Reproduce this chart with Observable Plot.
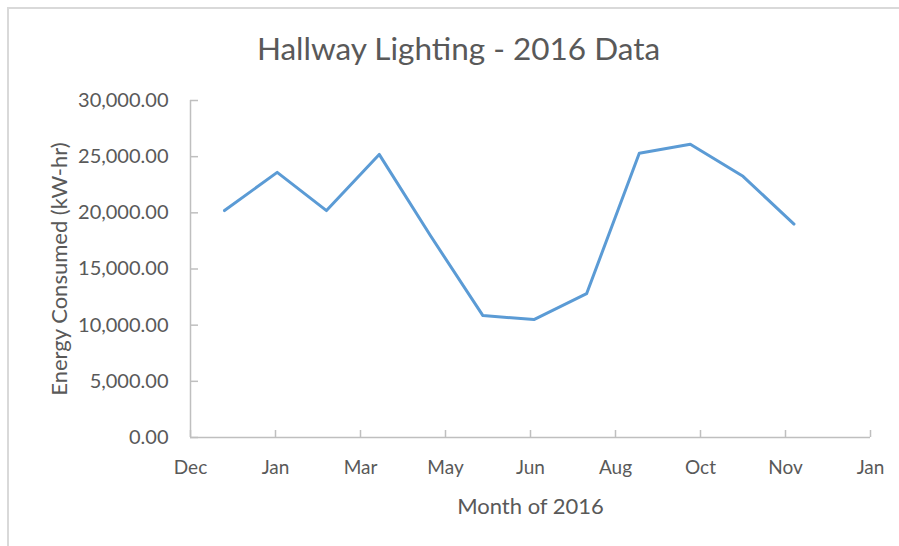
<!DOCTYPE html>
<html>
<head>
<meta charset="utf-8">
<script src="https://cdn.jsdelivr.net/npm/d3@7"></script>
<script src="https://cdn.jsdelivr.net/npm/@observablehq/plot@0.6"></script>
<style>
  html, body { margin: 0; padding: 0; background: #fff; }
  #wrap { position: relative; width: 899px; height: 546px; overflow: hidden; font-family: Lato, "Open Sans", sans-serif; }
  #border { position: absolute; left: 7px; top: 7px; width: 960px; height: 600px; border-top: 2px solid #d9d9d9; border-left: 2px solid #d9d9d9; box-sizing: border-box; }
  #title { position: relative; height: 76px; box-sizing: border-box; padding-top: 33px; padding-left: 18px; text-align: center; font-size: 31.5px; line-height: 30px; color: #595959; font-weight: 400; }
  #chart { position: relative; }
  svg { display: block; }
</style>
</head>
<body>
<div id="wrap">
  <div id="border"></div>
  <div id="title">Hallway Lighting - 2016 Data</div>
  <div id="chart"></div>
</div>
<script>
const months = ["2016-01-01","2016-02-01","2016-03-01","2016-04-01","2016-05-01","2016-06-01","2016-07-01","2016-08-01","2016-09-01","2016-10-01","2016-11-01","2016-12-01"];
const energy = [20200, 23600, 20200, 25200, 18000, 10850, 10500, 12800, 25300, 26100, 23250, 19000];
const xTicks = ["2015-12-12","2016-01-31","2016-03-21","2016-05-10","2016-06-29","2016-08-18","2016-10-07","2016-11-26","2017-01-15"];
const yTicks = [0, 5000, 10000, 15000, 20000, 25000, 30000];
const xDomain = ["2015-12-12", "2017-01-15"];
const yDomain = [0, 30000];
const xLabel = "Month of 2016";
const yLabel = "Energy Consumed (kW-hr)";

const data = months.map((m, i) => ({date: new Date(m + "T00:00:00Z"), value: energy[i]}));
const xTickDates = xTicks.map(d => new Date(d + "T00:00:00Z"));
const xDom = xDomain.map(d => new Date(d + "T00:00:00Z"));

const textColor = "#595959";
const axisColor = "#bfbfbf";
const monthFmt = d3.utcFormat("%b");

const chart = Plot.plot({
  width: 899,
  height: 470,
  marginLeft: 190,
  marginRight: 29,
  marginTop: 24,
  marginBottom: 109,
  style: {fontFamily: "Lato, 'Open Sans', sans-serif", color: textColor, background: "transparent", overflow: "visible"},
  x: {type: "utc", domain: xDom},
  y: {domain: yDomain},
  marks: [
    Plot.axisY({ticks: yTicks, tickFormat: d3.format(",.2f"), tickSize: 0, tickPadding: 22, fontSize: 20, label: null, fill: textColor}),
    Plot.axisX({ticks: xTickDates, tickFormat: monthFmt, tickSize: 0, tickPadding: 23, fontSize: 19, label: null, fill: textColor}),
    Plot.tickY(yTicks, {y: d => d, stroke: axisColor, strokeWidth: 1.5, insetRight: 672}),
    Plot.tickX(xTickDates, {x: d => d, stroke: axisColor, strokeWidth: 1.5, insetTop: 330}),
    Plot.ruleY([yDomain[0]], {stroke: axisColor, strokeWidth: 1.5}),
    Plot.ruleX([xDom[0]], {stroke: axisColor, strokeWidth: 1.5}),
    Plot.line(data, {x: "date", y: "value", stroke: "#5b9bd5", strokeWidth: 3, strokeLinecap: "round", strokeLinejoin: "round"}),
    Plot.text([yLabel], {text: d => d, frameAnchor: "left", textAnchor: "middle", dx: -131, rotate: -90, fontSize: 22, fill: textColor}),
    Plot.text([xLabel], {text: d => d, frameAnchor: "bottom", textAnchor: "middle", dy: 76, fontSize: 22, fill: textColor})
  ]
});
document.getElementById("chart").appendChild(chart);
</script>
</body>
</html>
